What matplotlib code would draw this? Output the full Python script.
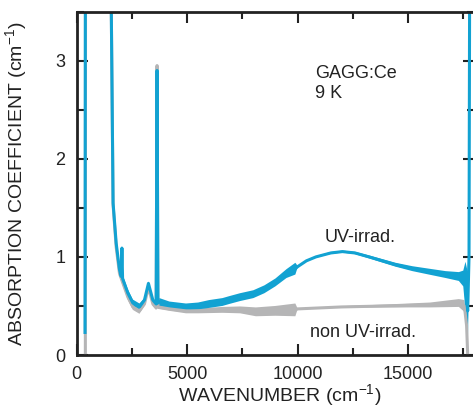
import numpy as np
import matplotlib
matplotlib.use('Agg')
import matplotlib.pyplot as plt

plt.rcParams['font.family'] = ['Liberation Sans', 'DejaVu Sans']
plt.rcParams['mathtext.fontset'] = 'custom'
plt.rcParams['mathtext.rm'] = 'Liberation Sans'

# UV-irradiated sample (blue): wavenumber, absorption, noise half-width
uv_x = [380, 400, 1520, 1570, 1650, 1790, 1940, 2020, 2050, 2080, 2320, 2545,
        2845, 3070, 3250, 3450, 3600, 3640, 3680, 3750, 4200, 4950, 5500, 6000,
        6600, 6910, 7400, 8000, 8500, 9000, 9500, 9900, 10000, 10400, 10830,
        11500, 12030, 12600, 13235, 14440, 15200, 15945, 16700, 17300, 17500,
        17600, 17700, 17760, 17800]
uv_y = [0.23, 5.0, 5.0, 3.5, 1.55, 1.14, 0.87, 0.80, 1.09, 0.78, 0.63, 0.53,
        0.49, 0.56, 0.73, 0.56, 0.52, 2.90, 0.53, 0.54, 0.51, 0.49, 0.50, 0.52,
        0.54, 0.56, 0.59, 0.62, 0.67, 0.74, 0.83, 0.88, 0.90, 0.96, 1.00,
        1.04, 1.054, 1.04, 1.00, 0.92, 0.88, 0.85, 0.82, 0.80, 0.78,
        0.70, 0.45, 1.0, 5.0]
uv_n = [0, 0, 0, 0, 0.01, 0.03, 0.04, 0.04, 0.02, 0.04, 0.04, 0.035,
        0.035, 0.02, 0.02, 0.02, 0.02, 0, 0.035, 0.04, 0.035, 0.035, 0.035, 0.04,
        0.04, 0.04, 0.04, 0.04, 0.04, 0.04, 0.045, 0.06, 0.01, 0.008, 0.008,
        0.01, 0.01, 0.012, 0.015, 0.02, 0.025, 0.03, 0.035, 0.045, 0.08,
        0.25, 0.4, 0.3, 0]

# non UV-irradiated sample (gray)
nu_x = [395, 405, 1520, 1570, 1650, 1790, 1940, 2320, 2545, 2845, 3070, 3250,
        3450, 3600, 3640, 3680, 4200, 4950, 5500, 6600, 7400, 8115, 9000,
        9900, 10000, 12000, 14000, 16000, 17300, 17550, 17650, 17700]
nu_y = [0.0, 5.0, 5.0, 3.5, 1.53, 1.10, 0.83, 0.59, 0.49, 0.45, 0.52, 0.69,
        0.52, 0.48, 2.95, 0.49, 0.47, 0.45, 0.45, 0.46, 0.46, 0.44, 0.45,
        0.46, 0.47, 0.49, 0.50, 0.51, 0.53, 0.50, 0.30, 0.0]
nu_n = [0, 0, 0, 0, 0.01, 0.02, 0.03, 0.03, 0.03, 0.03, 0.02, 0.02,
        0.02, 0.02, 0, 0.02, 0.02, 0.025, 0.025, 0.03, 0.035, 0.045, 0.05,
        0.065, 0.005, 0.008, 0.015, 0.025, 0.04, 0.06, 0.05, 0]

blue = '#12a2d2'
gray = '#b5b5b6'
ink = '#222222'

fig = plt.figure(figsize=(4.73, 4.18), dpi=100)
ax = fig.add_axes([0.162, 0.1507, 0.8408, 0.8215])

nu_x = np.array(nu_x); nu_y = np.array(nu_y); nu_n = np.array(nu_n)
uv_x = np.array(uv_x); uv_y = np.array(uv_y); uv_n = np.array(uv_n)

ax.fill_between(nu_x, nu_y - nu_n, nu_y + nu_n, color=gray, lw=0)
ax.plot(nu_x, nu_y, color=gray, lw=2.2)
ax.fill_between(uv_x, uv_y - uv_n, uv_y + uv_n, color=blue, lw=0)
ax.plot(uv_x, uv_y, color=blue, lw=2.2)

ax.set_xlim(0, 18000)
ax.set_ylim(0, 3.5)
ax.set_xticks([0, 5000, 10000, 15000])
ax.set_xticks(np.arange(2500, 18000, 5000), minor=True)
ax.set_yticks([0, 1, 2, 3])
ax.set_yticks([0.5, 1.5, 2.5, 3.5], minor=True)
ax.tick_params(which='both', direction='in', top=True, right=True,
               width=1.5, color=ink, labelsize=13, labelcolor=ink)
ax.tick_params(which='major', length=8, pad=8)
ax.tick_params(which='minor', length=5)
for s in ax.spines.values():
    s.set_linewidth(2)
    s.set_color(ink)

ax.set_xlabel('WAVENUMBER (cm$^{-1}$)', fontsize=14, color=ink)
ax.set_ylabel('ABSORPTION COEFFICIENT (cm$^{-1}$)', fontsize=14, color=ink)
ax.yaxis.set_label_coords(-0.118, 0.5)
ax.xaxis.set_label_coords(0.51, -0.08)

ax.text(10780, 2.82, 'GAGG:Ce', fontsize=13, color=ink, va='baseline')
ax.text(10780, 2.62, '9 K', fontsize=13, color=ink, va='baseline')
ax.text(11240, 1.155, 'UV-irrad.', fontsize=13, color=ink, va='baseline')
ax.text(10560, 0.187, 'non UV-irrad.', fontsize=13, color=ink, va='baseline')

fig.savefig('out.png', dpi=100)
